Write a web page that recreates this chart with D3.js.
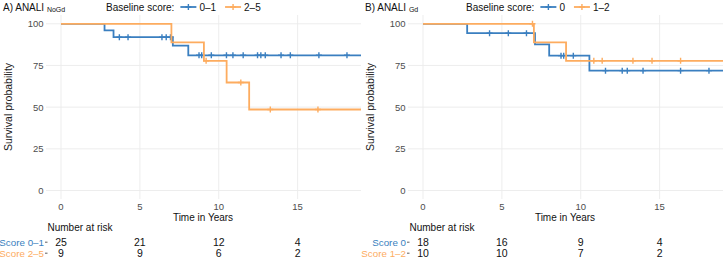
<!DOCTYPE html>
<html>
<head>
<meta charset="utf-8">
<script src="https://cdn.jsdelivr.net/npm/d3@7"></script>
<style>
  body { margin: 0; background: #fff; }
  svg { display: block; font-family: "Liberation Sans", Arial, sans-serif; }
</style>
</head>
<body>
<svg id="chart" width="724" height="260"></svg>
<script>
// panel A: ANALI NoGd
var aLowTime = [0, 2.76, 3.33, 7.09, 8.07];
var aLowSurv = [100, 96, 92, 86.9, 81.1];
var aLowCens = [3.7, 4.25, 6.4, 6.67, 6.94, 8.75, 8.92, 9.53, 10.49, 10.9, 11.55, 12.46, 12.67, 12.95, 13.95, 14.54, 16.35, 18.13];
var aHighTime = [0, 7.0, 9.06, 10.5, 11.93];
var aHighSurv = [100, 88.9, 77.8, 64.8, 48.6];
var aHighCens = [9.2, 11.4, 13.27, 16.29];
var aRiskLow = [25, 21, 12, 4];
var aRiskHigh = [9, 9, 6, 2];

// panel B: ANALI Gd
var bLowTime = [0, 2.8, 7.1, 8.0, 10.55];
var bLowSurv = [100, 94.4, 87.7, 80.9, 71.9];
var bLowCens = [4.22, 5.41, 6.56, 8.75, 8.92, 9.53, 11.57, 12.63, 12.95, 13.95, 16.33, 18.13];
var bHighTime = [0, 7.03, 9.07];
var bHighSurv = [100, 88.9, 77.8];
var bHighCens = [6.94, 10.83, 11.36, 13.31, 14.52, 16.33];
var bRiskLow = [18, 16, 9, 4];
var bRiskHigh = [10, 10, 7, 2];

var riskTimes = [0, 5, 10, 15];
var xTicks = [0, 5, 10, 15];
var yTicks = [0, 25, 50, 75, 100];

var blue = "#3a7fc0", orange = "#fdac5f";

var svg = d3.select("#chart");

var x = d3.scaleLinear().domain([0, 15]).range([61, 297.6]);
var y = d3.scaleLinear().domain([0, 100]).range([190.5, 23.8]);
var panelL = 46, panelR = 361, panelT = 15, panelB = 199;

function stepValue(times, surv, t) {
  var i = d3.bisectRight(times, t) - 1;
  return surv[Math.max(0, i)];
}

function drawPanel(ox, cfg) {
  var g = svg.append("g").attr("transform", "translate(" + ox + ",0)");
  var tMax = x.invert(panelR);

  g.append("clipPath").attr("id", "clip" + cfg.id)
    .append("rect")
    .attr("x", panelL).attr("y", panelT)
    .attr("width", panelR - panelL).attr("height", panelB - panelT);

  // grid
  g.selectAll("line.gx").data(xTicks).enter().append("line")
    .attr("x1", function (d) { return x(d); }).attr("x2", function (d) { return x(d); })
    .attr("y1", panelT).attr("y2", panelB)
    .attr("stroke", "#ebebeb").attr("stroke-width", 0.9);
  g.selectAll("line.gy").data(yTicks).enter().append("line")
    .attr("x1", panelL).attr("x2", panelR)
    .attr("y1", function (d) { return y(d); }).attr("y2", function (d) { return y(d); })
    .attr("stroke", "#ebebeb").attr("stroke-width", 0.9);

  // tick labels
  g.selectAll("text.yt").data(yTicks).enter().append("text")
    .attr("x", 43.5).attr("y", function (d) { return y(d) + 3.4; })
    .attr("text-anchor", "end").attr("font-size", 9.5).attr("fill", "#4d4d4d")
    .text(function (d) { return d; });
  g.selectAll("text.xt").data(xTicks).enter().append("text")
    .attr("x", function (d) { return x(d); }).attr("y", 209.5)
    .attr("text-anchor", "middle").attr("font-size", 9.5).attr("fill", "#4d4d4d")
    .text(function (d) { return d; });

  g.append("text")
    .attr("transform", "translate(11.5," + ((panelT + panelB) / 2) + ") rotate(-90)")
    .attr("text-anchor", "middle").attr("font-size", 10.5).attr("fill", "#222")
    .text("Survival probability");
  g.append("text")
    .attr("x", (panelL + 360) / 2).attr("y", 220.5)
    .attr("text-anchor", "middle").attr("font-size", 10).attr("fill", "#111")
    .text("Time in Years");

  // curves
  var line = d3.line()
    .x(function (d) { return x(d[0]); })
    .y(function (d) { return y(d[1]); })
    .curve(d3.curveStepAfter);
  var plot = g.append("g").attr("clip-path", "url(#clip" + cfg.id + ")");

  cfg.series.forEach(function (s) {
    var pts = s.time.map(function (t, i) { return [t, s.surv[i]]; });
    pts.push([tMax + 1, s.surv[s.surv.length - 1]]);
    plot.append("path").datum(pts)
      .attr("d", line)
      .attr("fill", "none").attr("stroke", s.color).attr("stroke-width", 1.8);
    var cens = plot.selectAll(null).data(s.cens).enter().append("g")
      .attr("transform", function (t) {
        return "translate(" + x(t) + "," + y(stepValue(s.time, s.surv, t)) + ")";
      });
    cens.append("path")
      .attr("d", "M-3,0H3M0,-3V3")
      .attr("stroke", s.color).attr("stroke-width", 1.4);
  });

  // title
  var title = g.append("text").attr("x", 3).attr("y", 10.5).attr("font-size", 10).attr("fill", "#111");
  title.append("tspan").text(cfg.title + " ");
  title.append("tspan").attr("font-size", 7).attr("dy", 1.5).text(cfg.sub);

  // legend
  var lg = g.append("g").attr("transform", "translate(" + cfg.legendX + ",10.5)");
  var lt = lg.append("text").attr("font-size", 10).attr("fill", "#111").text("Baseline score:");
  var cx = lt.node().getComputedTextLength() + 6;
  cfg.series.forEach(function (s) {
    lg.append("line").attr("x1", cx).attr("x2", cx + 16).attr("y1", -3.5).attr("y2", -3.5)
      .attr("stroke", s.color).attr("stroke-width", 1.8);
    lg.append("path").attr("d", "M" + (cx + 5) + ",-3.5H" + (cx + 11) + "M" + (cx + 8) + ",-6.5V-0.5")
      .attr("stroke", s.color).attr("stroke-width", 1.4);
    var t = lg.append("text").attr("x", cx + 19).attr("font-size", 10).attr("fill", "#111").text(s.label);
    cx += 19 + t.node().getComputedTextLength() + 9;
  });

  // risk table
  g.append("text").attr("x", 47.5).attr("y", 230.5).attr("font-size", 10).attr("fill", "#111")
    .text("Number at risk");
  cfg.series.forEach(function (s, k) {
    var ry = 245.5 + k * 11;
    g.append("text").attr("x", 44).attr("y", ry).attr("text-anchor", "end")
      .attr("font-size", 9.8).attr("fill", s.color).text("Score " + s.label);
    g.append("line").attr("x1", 45).attr("x2", 47.5).attr("y1", ry - 3.3).attr("y2", ry - 3.3)
      .attr("stroke", "#333").attr("stroke-width", 0.8);
    g.selectAll(null).data(s.risk).enter().append("text")
      .attr("x", function (d, i) { return x(riskTimes[i]); }).attr("y", ry)
      .attr("text-anchor", "middle").attr("font-size", 10.5).attr("fill", "#111")
      .text(function (d) { return d; });
  });
}

drawPanel(0, {
  id: "A", title: "A) ANALI", sub: "NoGd", legendX: 106,
  series: [
    {label: "0\u20131", color: blue, time: aLowTime, surv: aLowSurv, cens: aLowCens, risk: aRiskLow},
    {label: "2\u20135", color: orange, time: aHighTime, surv: aHighSurv, cens: aHighCens, risk: aRiskHigh}
  ]
});
drawPanel(362, {
  id: "B", title: "B) ANALI", sub: "Gd", legendX: 104,
  series: [
    {label: "0", color: blue, time: bLowTime, surv: bLowSurv, cens: bLowCens, risk: bRiskLow},
    {label: "1\u20132", color: orange, time: bHighTime, surv: bHighSurv, cens: bHighCens, risk: bRiskHigh}
  ]
});
</script>
</body>
</html>
